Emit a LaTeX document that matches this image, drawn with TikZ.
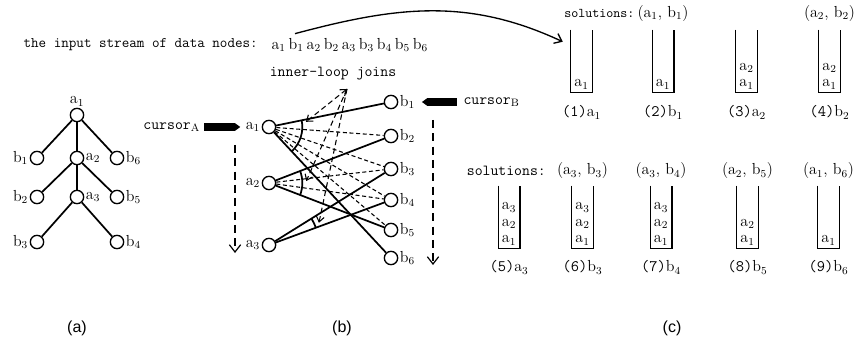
\documentclass[tikz,border=0pt]{standalone}
\usepackage{fontspec}
\newfontfamily\capfont{Liberation Sans}
\usetikzlibrary{arrows.meta,positioning,calc,angles}

\begin{document}
\begin{tikzpicture}[
  x=0.75pt,y=0.75pt,
  vtx/.style={circle,draw,line width=1pt,minimum size=10pt,inner sep=0pt},
  lbl/.style={inner sep=1pt,font=\fontsize{12}{12.5}\selectfont},
  ttx/.style={inner sep=1pt,font=\ttfamily\fontsize{11.5}{12.5}\selectfont},
  sline/.style={line width=1.3pt},
  dline/.style={line width=0.8pt,dash pattern=on 3pt off 2pt},
  cdown/.style={line width=0.9pt,dash pattern=on 6pt off 4pt,-{Straight Barb[length=5.5pt,width=8.5pt]}},
  cblock/.style={line width=5.5pt,-{Triangle[length=4pt,width=5.5pt]}},
  stk/.style={minimum width=15.75pt,minimum height=46.5pt,inner sep=0pt},
  captxt/.style={font=\capfont\fontsize{12}{14}\selectfont}
]
\useasboundingbox (0,0) rectangle (856,350);

% (a) the document tree
\node[vtx] (ta1) at (77,235) {};
\node[vtx] (tb1) at (37,192) {};
\node[vtx] (ta2) at (77,192) {};
\node[vtx] (tb6) at (117,192) {};
\node[vtx] (tb2) at (37,153) {};
\node[vtx] (ta3) at (77,153) {};
\node[vtx] (tb5) at (117,153) {};
\node[vtx] (tb3) at (37,108) {};
\node[vtx] (tb4) at (117,108) {};
\node[lbl,above=0pt of ta1] (tla1) {a$_1$};
\node[lbl,left=0pt of tb1] (tlb1) {b$_1$};
\node[lbl,right=0pt of ta2] (tla2) {a$_2$};
\node[lbl,right=0pt of tb6] (tlb6) {b$_6$};
\node[lbl,left=0pt of tb2] (tlb2) {b$_2$};
\node[lbl,right=0pt of ta3] (tla3) {a$_3$};
\node[lbl,right=0pt of tb5] (tlb5) {b$_5$};
\node[lbl,left=0pt of tb3] (tlb3) {b$_3$};
\node[lbl,right=0pt of tb4] (tlb4) {b$_4$};
\draw[sline] (ta1)--(tb1);
\draw[sline] (ta1)--(ta2);
\draw[sline] (ta1)--(tb6);
\draw[sline] (ta2)--(tb2);
\draw[sline] (ta2)--(ta3);
\draw[sline] (ta2)--(tb5);
\draw[sline] (ta3)--(tb3);
\draw[sline] (ta3)--(tb4);

% input stream
\node[ttx,font=\ttfamily\fontsize{11}{12.5}\selectfont,anchor=west] (inp) at (22,305) {the input stream of data nodes:};
\node[lbl,right=8pt of inp] (strm) {\spaceskip=2.2pt\relax a$_1$ b$_1$ a$_2$ b$_2$ a$_3$ b$_3$ b$_4$ b$_5$ b$_6$};

% (b) the two streams and the joins
\node[vtx] (ga1) at (269,223) {};
\node[vtx] (ga2) at (269,167) {};
\node[vtx] (ga3) at (269,105) {};
\node[vtx] (gb1) at (391,248) {};
\node[vtx] (gb2) at (391,214) {};
\node[vtx] (gb3) at (391,181) {};
\node[vtx] (gb4) at (391,150) {};
\node[vtx] (gb5) at (391,120) {};
\node[vtx] (gb6) at (391,92) {};
\node[lbl,left=0pt of ga1] (la1) {a$_1$};
\node[lbl,left=0pt of ga2] (la2) {a$_2$};
\node[lbl,left=0pt of ga3] (la3) {a$_3$};
\node[lbl,right=0pt of gb1] (lb1) {b$_1$};
\node[lbl,right=0pt of gb2] (lb2) {b$_2$};
\node[lbl,right=0pt of gb3] (lb3) {b$_3$};
\node[lbl,right=0pt of gb4] (lb4) {b$_4$};
\node[lbl,right=0pt of gb5] (lb5) {b$_5$};
\node[lbl,right=0pt of gb6] (lb6) {b$_6$};
\draw[sline] (ga1)--(gb1);
\draw[sline] (ga1)--(gb6);
\draw[sline] (ga2)--(gb2);
\draw[sline] (ga2)--(gb5);
\draw[sline] (ga3)--(gb3);
\draw[sline] (ga3)--(gb4);
\draw[dline] (ga1)--(gb2);
\draw[dline] (ga1)--(gb3);
\draw[dline] (ga1)--(gb4);
\draw[dline] (ga1)--(gb5);
\draw[dline] (ga2)--(gb3);
\draw[dline] (ga2)--(gb4);
\pic[draw,sline,angle radius=25pt] {angle=gb6--ga1--gb1};
\pic[draw,sline,angle radius=25pt] {angle=gb5--ga2--gb2};
\pic[draw,sline,angle radius=37.5pt] {angle=gb4--ga3--gb3};

% inner-loop joins
\node[ttx] (ilj) at (333,276) {inner-loop joins};
\coordinate (jt) at (347,261);
\coordinate (j1) at ($(ga1)+(8:28pt)$);
\coordinate (j2) at ($(ga2)+(3:28pt)$);
\coordinate (j3) at ($(ga3)+(24:41pt)$);
\draw[dline,dash pattern=on 4pt off 2.5pt,{Straight Barb[length=4pt,width=6pt]}-{Straight Barb[length=4pt,width=6pt]}] (jt)--(j1);
\draw[dline,dash pattern=on 4pt off 2.5pt,-{Straight Barb[length=4pt,width=6pt]}] (jt)--(j2);
\draw[dline,dash pattern=on 4pt off 2.5pt,-{Straight Barb[length=4pt,width=6pt]}] (jt)--(j3);

% cursors
\node[ttx,left=32pt of la1] (curA) {cursor$_{\mathrm{A}}$};
\node[ttx,right=34pt of lb1] (curB) {cursor$_{\mathrm{B}}$};
\draw[cblock,shorten <=2pt,shorten >=3pt] (curA)--(la1);
\draw[cblock,shorten <=4pt,shorten >=4pt] (curB)--(lb1);
\coordinate (dA1) at (235,205);
\coordinate (dA2) at (235,97);
\coordinate (dB1) at (433,230);
\coordinate (dB2) at (433,85);
\draw[cdown] (dA1)--(dA2);
\draw[cdown] (dB1)--(dB2);

% (c) the stack states
\node[stk] (s1) at (581.5,289) {};
\node[stk] (s2) at (663,289) {};
\node[stk] (s3) at (746.5,289) {};
\node[stk] (s4) at (829.5,289) {};
\node[stk] (s5) at (509,133) {};
\node[stk] (s6) at (582.5,133) {};
\node[stk] (s7) at (661,133) {};
\node[stk] (s8) at (747.5,133) {};
\node[stk] (s9) at (828.5,133) {};
\draw[line width=1.1pt] (s1.north west) |- (s1.south east) -- (s1.north east);
\draw[line width=1.1pt] (s2.north west) |- (s2.south east) -- (s2.north east);
\draw[line width=1.1pt] (s3.north west) |- (s3.south east) -- (s3.north east);
\draw[line width=1.1pt] (s4.north west) |- (s4.south east) -- (s4.north east);
\draw[line width=1.1pt] (s5.north west) |- (s5.south east) -- (s5.north east);
\draw[line width=1.1pt] (s6.north west) |- (s6.south east) -- (s6.north east);
\draw[line width=1.1pt] (s7.north west) |- (s7.south east) -- (s7.north east);
\draw[line width=1.1pt] (s8.north west) |- (s8.south east) -- (s8.north east);
\draw[line width=1.1pt] (s9.north west) |- (s9.south east) -- (s9.north east);
\node[lbl,align=center,anchor=south] (c1) at ([yshift=1pt]s1.south) {a$_1$};
\node[lbl,align=center,anchor=south] (c2) at ([yshift=1pt]s2.south) {a$_1$};
\node[lbl,align=center,anchor=south] (c3) at ([yshift=1pt]s3.south) {a$_2$\\a$_1$};
\node[lbl,align=center,anchor=south] (c4) at ([yshift=1pt]s4.south) {a$_2$\\a$_1$};
\node[lbl,align=center,anchor=south] (c5) at ([yshift=1pt]s5.south) {a$_3$\\a$_2$\\a$_1$};
\node[lbl,align=center,anchor=south] (c6) at ([yshift=1pt]s6.south) {a$_3$\\a$_2$\\a$_1$};
\node[lbl,align=center,anchor=south] (c7) at ([yshift=1pt]s7.south) {a$_3$\\a$_2$\\a$_1$};
\node[lbl,align=center,anchor=south] (c8) at ([yshift=1pt]s8.south) {a$_2$\\a$_1$};
\node[lbl,align=center,anchor=south] (c9) at ([yshift=1pt]s9.south) {a$_1$};
\node[lbl,below=9pt of s1] (e1) {{\ttfamily(1)}a$_1$};
\node[lbl,below=9pt of s2] (e2) {{\ttfamily(2)}b$_1$};
\node[lbl,below=9pt of s3] (e3) {{\ttfamily(3)}a$_2$};
\node[lbl,below=9pt of s4] (e4) {{\ttfamily(4)}b$_2$};
\node[lbl,below=8pt of s5] (e5) {{\ttfamily(5)}a$_3$};
\node[lbl,below=8pt of s6] (e6) {{\ttfamily(6)}b$_3$};
\node[lbl,below=8pt of s7] (e7) {{\ttfamily(7)}b$_4$};
\node[lbl,below=8pt of s8] (e8) {{\ttfamily(8)}b$_5$};
\node[lbl,below=8pt of s9] (e9) {{\ttfamily(9)}b$_6$};
\node[lbl,above=5pt of s2] (p2) {(a$_1$, b$_1$)};
\node[lbl,above=5pt of s4] (p4) {(a$_2$, b$_2$)};
\node[lbl,above=4pt of s6] (p6) {(a$_3$, b$_3$)};
\node[lbl,above=4pt of s7] (p7) {(a$_3$, b$_4$)};
\node[lbl,above=4pt of s8] (p8) {(a$_2$, b$_5$)};
\node[lbl,above=4pt of s9] (p9) {(a$_1$, b$_6$)};
\node[ttx,font=\ttfamily\fontsize{10}{12}\selectfont,left=0pt of p2] (sol1) {solutions:};
\node[ttx,left=6pt of p6] (sol2) {solutions:};

% stream goes into the stacks
\coordinate (st0) at ($(strm.north west)+(25,3)$);
\coordinate (st1) at ($(s1.north west)+(-8,-12)$);
\draw[line width=1pt,-{Straight Barb[length=5pt,width=8pt]}] (st0) to[out=15,in=155] (st1);

% captions
\node[captxt] (capa) at (77,22) {(a)};
\node[captxt] (capb) at (342,22) {(b)};
\node[captxt] (capc) at (672,22) {(c)};
\end{tikzpicture}
\end{document}
